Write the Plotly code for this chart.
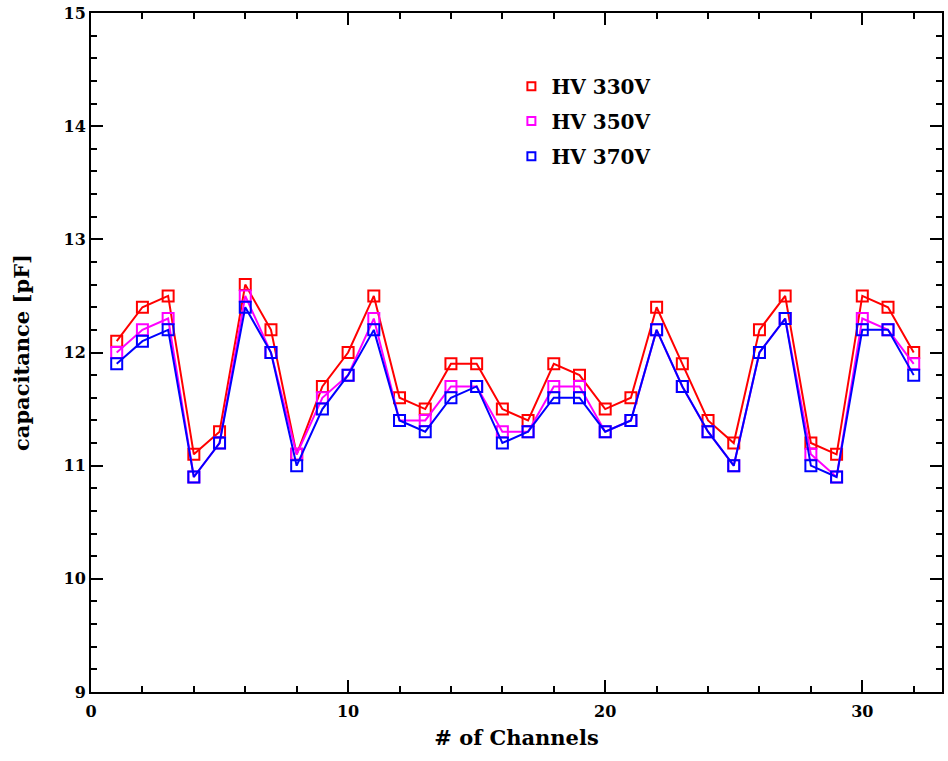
import plotly.graph_objects as go

channels = list(range(1, 33))
hv330 = [12.1, 12.4, 12.5, 11.1, 11.3, 12.6, 12.2, 11.1, 11.7, 12.0, 12.5, 11.6, 11.5, 11.9, 11.9, 11.5,
         11.4, 11.9, 11.8, 11.5, 11.6, 12.4, 11.9, 11.4, 11.2, 12.2, 12.5, 11.2, 11.1, 12.5, 12.4, 12.0]
hv350 = [12.0, 12.2, 12.3, 10.9, 11.2, 12.5, 12.0, 11.1, 11.6, 11.8, 12.3, 11.4, 11.4, 11.7, 11.7, 11.3,
         11.3, 11.7, 11.7, 11.3, 11.4, 12.2, 11.7, 11.3, 11.0, 12.0, 12.3, 11.1, 10.9, 12.3, 12.2, 11.9]
hv370 = [11.9, 12.1, 12.2, 10.9, 11.2, 12.4, 12.0, 11.0, 11.5, 11.8, 12.2, 11.4, 11.3, 11.6, 11.7, 11.2,
         11.3, 11.6, 11.6, 11.3, 11.4, 12.2, 11.7, 11.3, 11.0, 12.0, 12.3, 11.0, 10.9, 12.2, 12.2, 11.8]

series = [("HV 330V", hv330, "#ff0000"), ("HV 350V", hv350, "#ff00ff"), ("HV 370V", hv370, "#0000ff")]
legend_ids = ["legend", "legend2", "legend3"]
legend_y = [0.892, 0.841, 0.789]

FONT = "DejaVu Serif"
fig = go.Figure()
for name, vals, col in series:
    fig.add_trace(go.Scatter(x=channels, y=vals, mode="lines+markers", showlegend=False,
                             line=dict(color=col, width=2),
                             marker=dict(symbol="square-open", size=11, color=col, line=dict(width=2, color=col))))
for (name, vals, col), lid in zip(series, legend_ids):
    fig.add_trace(go.Scatter(x=[None], y=[None], mode="markers", name="<b>%s</b>" % name, legend=lid,
                             marker=dict(symbol="square-open", size=8, color=col, line=dict(width=2, color=col))))

axis_common = dict(showline=True, linecolor="black", linewidth=2, mirror="ticks", ticks="inside",
                   tickcolor="black", tickwidth=2, showgrid=False, zeroline=False,
                   ticklabeloverflow="allow",
                   tickfont=dict(family=FONT, size=16, color="black"))
fig.update_xaxes(range=[0, 33.1], tickvals=[0, 10, 20, 30], ticktext=["<b>0</b>", "<b>10</b>", "<b>20</b>", "<b>30</b>"],
                 ticklen=12, ticklabelstandoff=4,
                 minor=dict(dtick=2, tick0=0, ticks="inside", ticklen=6, tickcolor="black", tickwidth=1.5),
                 title=dict(text="<b># of Channels</b>", font=dict(family=FONT, size=21, color="black"), standoff=10),
                 **axis_common)
fig.update_yaxes(range=[9, 15], tickvals=[9, 10, 11, 12, 13, 14, 15],
                 ticktext=["<b>%d</b>" % v for v in [9, 10, 11, 12, 13, 14, 15]],
                 ticklen=12, minor=dict(dtick=0.2, tick0=9, ticks="inside", ticklen=6, tickcolor="black", tickwidth=1.5),
                 title=dict(text="<b>capacitance [pF]</b>", font=dict(family=FONT, size=21, color="black"), standoff=28),
                 **axis_common)
legend_common = dict(x=0.494, xanchor="left", yanchor="middle", bgcolor="rgba(0,0,0,0)",
                     font=dict(family=FONT, size=20, color="black"), itemwidth=30)
fig.update_layout(width=948, height=761, margin=dict(l=91, r=4, t=8, b=69),
                  plot_bgcolor="white", paper_bgcolor="white",
                  legend=dict(y=legend_y[0], **legend_common),
                  legend2=dict(y=legend_y[1], **legend_common),
                  legend3=dict(y=legend_y[2], **legend_common))
fig.write_html("out.html")
